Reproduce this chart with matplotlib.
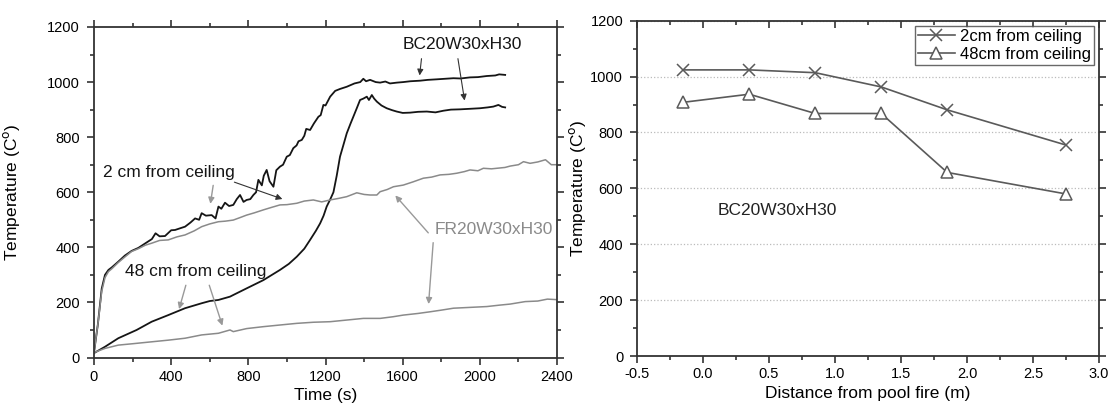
import numpy as np
import matplotlib
matplotlib.use('Agg')
import matplotlib.pyplot as plt
from matplotlib.ticker import MultipleLocator, FormatStrFormatter

plt.rcParams['font.family'] = ['Liberation Sans', 'DejaVu Sans']

# left panel: temperature vs time
bc_2cm_t = [0, 20, 40, 57, 75, 92, 126, 160, 195, 230, 267, 300, 319, 340, 368, 400, 420, 450, 472,
            500, 524, 545, 558, 580, 610, 630, 645, 660, 679, 700, 722, 740, 757, 775, 791, 810, 826,
            840, 852, 870, 880, 895, 910, 930, 945, 964, 980, 999, 1015, 1033, 1050, 1060, 1077, 1090,
            1100, 1120, 1140, 1163, 1175, 1189, 1200, 1215, 1224, 1250, 1275, 1310, 1350, 1380, 1396,
            1410, 1431, 1460, 1483, 1510, 1534, 1570, 1603, 1640, 1690, 1730, 1777, 1820, 1863, 1900,
            1949, 1990, 2036, 2080, 2100, 2131]
bc_2cm_T = [18, 120, 250, 300, 318, 327, 348, 370, 387, 398, 415, 430, 451, 440, 441, 462, 463, 470, 475,
            490, 505, 500, 524, 515, 517, 505, 548, 540, 562, 550, 554, 575, 590, 565, 572, 575, 590,
            600, 645, 625, 660, 681, 640, 620, 680, 693, 700, 729, 735, 760, 770, 785, 790, 805,
            830, 826, 850, 874, 880, 917, 915, 935, 947, 968, 975, 983, 995, 1000, 1012,
            1003, 1008, 1000, 998, 1002, 995, 998, 1000, 1003, 1005, 1008, 1010, 1012, 1014, 1013,
            1017, 1018, 1022, 1024, 1028, 1026]

bc_48cm_t = [0, 57, 126, 221, 299, 385, 472, 558, 600, 645, 705, 722, 791, 878, 964, 1010, 1051, 1090,
             1120, 1150, 1172, 1190, 1206, 1225, 1241, 1258, 1275, 1292, 1310, 1330, 1344, 1362, 1379,
             1396, 1414, 1425, 1440, 1452, 1466, 1490, 1517, 1545, 1569, 1600, 1638, 1680, 1725, 1770,
             1811, 1850, 1897, 1950, 2001, 2040, 2070, 2096, 2115, 2131]
bc_48cm_T = [16, 39, 70, 100, 130, 154, 179, 197, 205, 209, 221, 227, 251, 281, 318, 340, 366, 395,
             427, 460, 487, 515, 548, 575, 600, 660, 729, 770, 814, 850, 874, 905, 935,
             940, 947, 935, 953, 940, 929, 915, 905, 898, 893, 888, 889, 892, 893, 890,
             896, 900, 901, 903, 905, 908, 911, 917, 910, 908]

fr_2cm_t = [0, 20, 40, 57, 75, 92, 126, 160, 195, 230, 267, 299, 340, 385, 430, 472, 520, 558, 600, 645,
            680, 722, 757, 791, 830, 878, 920, 964, 1000, 1051, 1090, 1137, 1180, 1224, 1270, 1310,
            1362, 1400, 1431, 1466, 1483, 1520, 1552, 1603, 1655, 1707, 1750, 1794, 1840, 1880, 1920,
            1949, 1990, 2018, 2060, 2088, 2130, 2157, 2200, 2226, 2260, 2300, 2340, 2370, 2400]
fr_2cm_T = [18, 120, 240, 290, 312, 322, 345, 365, 385, 395, 408, 415, 425, 427, 438, 445, 460, 475, 485, 493,
            495, 499, 508, 517, 525, 536, 545, 554, 555, 560, 568, 572, 565, 572, 578, 584,
            598, 592, 590, 590, 602, 610, 620, 626, 638, 651, 655, 663, 665, 669, 675,
            681, 678, 687, 685, 687, 690, 695, 700, 711, 705, 710, 718, 700, 700]

fr_48cm_t = [0, 57, 126, 200, 299, 385, 472, 558, 645, 705, 722, 791, 878, 964, 1051, 1137, 1224, 1310,
             1396, 1483, 1550, 1603, 1680, 1742, 1800, 1863, 1950, 2036, 2100, 2157, 2235, 2300, 2350, 2400]
fr_48cm_T = [18, 33, 45, 50, 57, 63, 70, 82, 88, 100, 94, 105, 112, 118, 124, 128, 130, 136,
             142, 142, 148, 154, 160, 166, 172, 179, 182, 185, 190, 194, 203, 205, 212, 210]

# right panel: temperature vs distance
dist = [-0.15, 0.35, 0.85, 1.35, 1.85, 2.75]
temp_2cm = [1024, 1024, 1014, 963, 881, 755]
temp_48cm = [908, 937, 868, 868, 657, 580]

fig = plt.figure(figsize=(11.11, 4.07), dpi=100)
ax1 = fig.add_axes([0.0846, 0.1216, 0.4168, 0.8121])
ax2 = fig.add_axes([0.5734, 0.1253, 0.4158, 0.8238])

black = '#151515'
gray = '#8a8a8a'
spine_c = '#333333'

# ---- left panel
ax1.plot(bc_2cm_t, bc_2cm_T, color=black, lw=1.3)
ax1.plot(bc_48cm_t, bc_48cm_T, color=black, lw=1.3)
ax1.plot(fr_2cm_t, fr_2cm_T, color=gray, lw=1.1)
ax1.plot(fr_48cm_t, fr_48cm_T, color=gray, lw=1.1)

ax1.set_xlim(0, 2400)
ax1.set_ylim(0, 1200)
ax1.xaxis.set_major_locator(MultipleLocator(400))
ax1.xaxis.set_minor_locator(MultipleLocator(200))
ax1.yaxis.set_major_locator(MultipleLocator(200))
ax1.yaxis.set_minor_locator(MultipleLocator(100))
ax1.tick_params(which='both', direction='out', top=True, right=True, labelsize=10.5,
                color=spine_c, width=1.2)
ax1.tick_params(which='major', length=5)
ax1.tick_params(which='minor', length=3)
ax1.tick_params(axis='x', pad=4)
ax1.tick_params(axis='y', pad=5)
ax1.set_xlabel('Time (s)', fontsize=12.5)
ax1.set_ylabel('Temperature (C$^{\\rm o}$)', fontsize=12.5)
ax1.xaxis.set_label_coords(0.5, -0.092)
ax1.yaxis.set_label_coords(-0.156, 0.5)

arw_k = dict(arrowstyle='-|>', color='#333333', lw=0.8, mutation_scale=9)
arw_g = dict(arrowstyle='-|>', color='#999999', lw=1.0, mutation_scale=9)

ax1.text(1600, 1135, 'BC20W30xH30', fontsize=12.5, color=black, va='center')
ax1.annotate('', xy=(1686, 1014), xytext=(1699, 1095), arrowprops=arw_k)
ax1.annotate('', xy=(1923, 923), xytext=(1884, 1095), arrowprops=arw_k)

ax1.text(47, 670, '2 cm from ceiling', fontsize=12.5, color=black, va='center')
ax1.annotate('', xy=(601, 548), xytext=(620, 635), arrowprops=arw_g)
ax1.annotate('', xy=(990, 572), xytext=(714, 640), arrowprops=arw_k)

ax1.text(161, 312, '48 cm from ceiling', fontsize=12.5, color=black, va='center')
ax1.annotate('', xy=(437, 166), xytext=(480, 272), arrowprops=arw_g)
ax1.annotate('', xy=(670, 106), xytext=(593, 272), arrowprops=arw_g)

ax1.text(1768, 463, 'FR20W30xH30', fontsize=12.5, color=gray, va='center')
ax1.annotate('', xy=(1552, 596), xytext=(1742, 445), arrowprops=arw_g)
ax1.annotate('', xy=(1733, 184), xytext=(1759, 427), arrowprops=arw_g)

# ---- right panel
line_c = '#5a5a5a'
ax2.plot(dist, temp_2cm, color=line_c, lw=1.2, marker='x', ms=8, mew=1.1,
         label='2cm from ceiling')
ax2.plot(dist, temp_48cm, color=line_c, lw=1.2, marker='^', ms=8, mew=1.1,
         mfc='white', label='48cm from ceiling')

ax2.set_xlim(-0.5, 3.0)
ax2.set_ylim(0, 1200)
ax2.xaxis.set_major_locator(MultipleLocator(0.5))
ax2.xaxis.set_minor_locator(MultipleLocator(0.25))
ax2.yaxis.set_major_locator(MultipleLocator(200))
ax2.yaxis.set_minor_locator(MultipleLocator(100))
ax2.xaxis.set_major_formatter(FormatStrFormatter('%.1f'))
ax2.tick_params(which='both', direction='out', labelsize=10.5, color=spine_c, width=1.2)
ax2.tick_params(which='major', length=5)
ax2.tick_params(which='minor', length=3)
ax2.tick_params(which='both', top=True, right=True)
ax2.tick_params(axis='x', pad=3)
ax2.tick_params(axis='y', pad=5)
# top and right ticks point inward on this panel
for t in ax2.xaxis.get_major_ticks() + ax2.xaxis.get_minor_ticks():
    t.tick2line.set_marker(3)
for t in ax2.yaxis.get_major_ticks() + ax2.yaxis.get_minor_ticks():
    t.tick2line.set_marker(1)
ax2.grid(axis='y', which='major', linestyle=':', color='#bbbbbb', lw=0.9)
ax2.set_xlabel('Distance from pool fire (m)', fontsize=12.5)
ax2.set_ylabel('Temperature (C$^{\\rm o}$)', fontsize=12.5)
ax2.xaxis.set_label_coords(0.5, -0.09)
ax2.yaxis.set_label_coords(-0.106, 0.5)
ax2.text(0.11, 520, 'BC20W30xH30', fontsize=12.5, color='#222222', va='center')

leg = ax2.legend(loc='upper right', fontsize=12, frameon=True, fancybox=False,
                 edgecolor='#444444', borderpad=0.2, handlelength=2.2,
                 handletextpad=0.3, labelspacing=0.15, borderaxespad=0.3)
leg.get_frame().set_linewidth(1.0)

for ax in (ax1, ax2):
    for s in ax.spines.values():
        s.set_color(spine_c)
        s.set_linewidth(1.3)

fig.savefig('out.png', dpi=100)
